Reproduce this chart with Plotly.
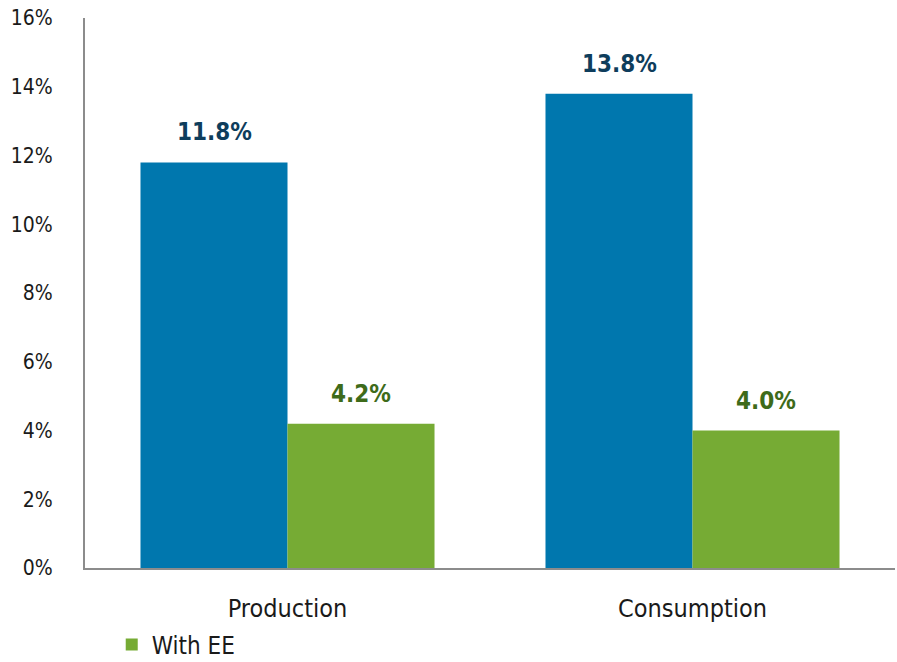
import plotly.graph_objects as go

categories = ["Production", "Consumption"]
base_values = [11.8, 13.8]
ee_values = [4.2, 4.0]
base_name = "Without EE"
ee_name = "With EE"
yticks = [0, 2, 4, 6, 8, 10, 12, 14, 16]
ytick_labels = [f"{v}%" for v in yticks]

BLUE = "#0077AE"
GREEN = "#76AB34"
FONT = "DejaVu Sans Condensed, Liberation Sans Narrow, Roboto, sans-serif"

fig = go.Figure()
fig.add_trace(go.Bar(x=categories, y=base_values, name=base_name,
                     marker=dict(color=BLUE, line=dict(width=0)), showlegend=False))
fig.add_trace(go.Bar(x=categories, y=ee_values, name=ee_name,
                     marker=dict(color=GREEN, line=dict(width=0))))

for c, v in zip(categories, base_values):
    fig.add_annotation(x=c, y=v, text=f"{v:.1f}%", showarrow=False, yanchor="bottom",
                       xshift=-73.5, yshift=14,
                       font=dict(family=FONT, size=24, color="#0E3D5C", weight="bold"))
for c, v in zip(categories, ee_values):
    fig.add_annotation(x=c, y=v, text=f"{v:.1f}%", showarrow=False, yanchor="bottom",
                       xshift=73.5, yshift=14,
                       font=dict(family=FONT, size=24, color="#3E6B1A", weight="bold"))

fig.update_layout(
    width=897, height=662,
    margin=dict(l=85, r=2, t=18, b=94, autoexpand=False),
    plot_bgcolor="white", paper_bgcolor="white",
    barmode="group", bargap=0.274, bargroupgap=0,
    font=dict(family=FONT, size=21, color="#1a1a1a"),
    legend=dict(orientation="h", x=0.033, y=-0.14, xanchor="left", yanchor="middle",
                font=dict(family=FONT, size=24, color="#1a1a1a"), itemwidth=30),
    xaxis=dict(showline=True, linecolor="#8c8c8c", linewidth=2, ticks="",
               tickfont=dict(size=25), showgrid=False, ticklabelstandoff=17),
    yaxis=dict(range=[0, 16], tickvals=yticks, ticktext=ytick_labels, showline=True,
               linecolor="#8c8c8c", linewidth=2, showgrid=False, zeroline=False,
               ticks="", ticklabelstandoff=26, tickfont=dict(size=21)),
)

fig.write_html("out.html")
